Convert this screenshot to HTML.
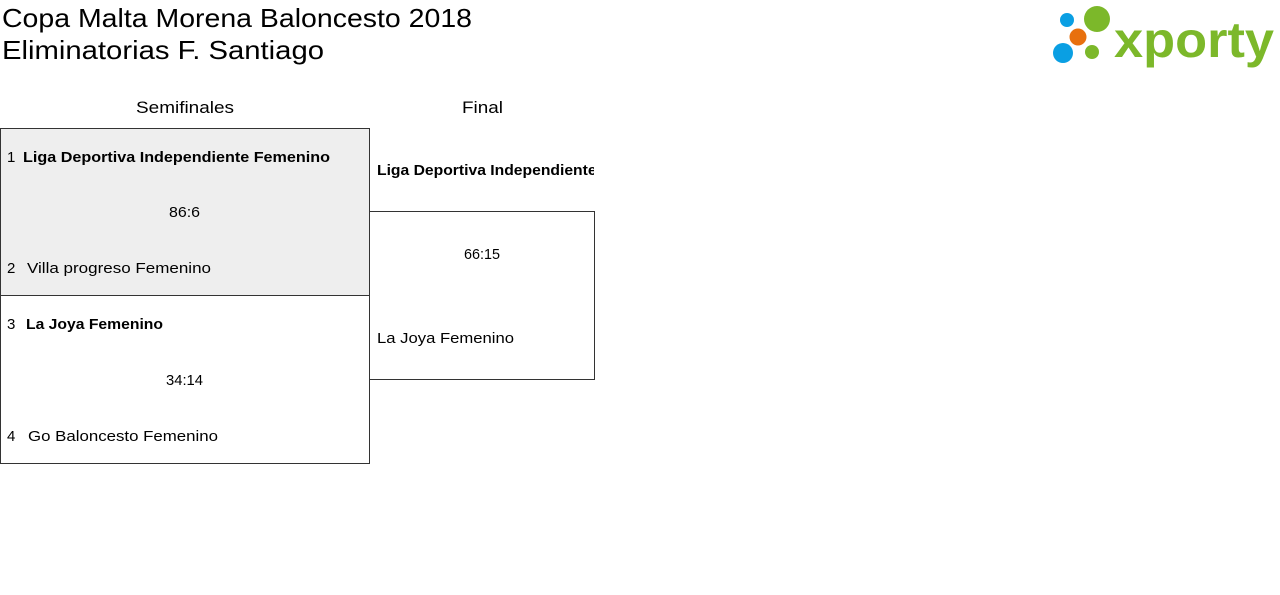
<!DOCTYPE html>
<html><head><meta charset="utf-8"><style>html,body{margin:0;padding:0;background:#fff}svg{display:block}</style></head>
<body>
<svg width="1280" height="595" viewBox="0 0 1280 595" xmlns="http://www.w3.org/2000/svg" font-family="Liberation Sans, sans-serif" fill="#000">
<text x="2" y="27" font-size="26" textLength="470" lengthAdjust="spacingAndGlyphs">Copa Malta Morena Baloncesto 2018</text>
<text x="2" y="59" font-size="26" textLength="322" lengthAdjust="spacingAndGlyphs">Eliminatorias F. Santiago</text>
<text x="136" y="113" font-size="17" textLength="98" lengthAdjust="spacingAndGlyphs">Semifinales</text>
<text x="462" y="113" font-size="17" textLength="41" lengthAdjust="spacingAndGlyphs">Final</text>
<rect x="0.5" y="128.5" width="369" height="167" fill="#eeeeee" stroke="#333"/>
<rect x="0.5" y="295.5" width="369" height="168" fill="#fff" stroke="#333"/>
<rect x="369.5" y="211.5" width="225" height="168" fill="#fff" stroke="#333"/>
<g font-size="15">
<text x="7" y="162">1</text>
<text x="23" y="162" font-weight="bold" textLength="307" lengthAdjust="spacingAndGlyphs">Liga Deportiva Independiente Femenino</text>
<text x="169" y="217" textLength="31" lengthAdjust="spacingAndGlyphs">86:6</text>
<text x="7" y="273">2</text>
<text x="27" y="273" textLength="184" lengthAdjust="spacingAndGlyphs">Villa progreso Femenino</text>
<text x="7" y="329">3</text>
<text x="26" y="329" font-weight="bold" textLength="137" lengthAdjust="spacingAndGlyphs">La Joya Femenino</text>
<text x="166" y="385" textLength="37" lengthAdjust="spacingAndGlyphs">34:14</text>
<text x="7" y="441">4</text>
<text x="28" y="441" textLength="190" lengthAdjust="spacingAndGlyphs">Go Baloncesto Femenino</text>
<svg x="0" y="0" width="594" height="595"><text x="377" y="175" font-weight="bold" textLength="298" lengthAdjust="spacingAndGlyphs">Liga Deportiva Independiente Femenino</text></svg>
<text x="464" y="259" textLength="36" lengthAdjust="spacingAndGlyphs">66:15</text>
<text x="377" y="343" textLength="137" lengthAdjust="spacingAndGlyphs">La Joya Femenino</text>
</g>
<g>
<circle cx="1067" cy="20" r="7" fill="#0a9fe3"/>
<circle cx="1097" cy="19" r="13" fill="#7cb82a"/>
<circle cx="1078" cy="37" r="8.5" fill="#e8700e"/>
<circle cx="1063" cy="53" r="10" fill="#0a9fe3"/>
<circle cx="1092" cy="52" r="7" fill="#7cb82a"/>
<text x="1114" y="57" font-size="50" font-weight="bold" fill="#7cb82a" textLength="160" lengthAdjust="spacingAndGlyphs">xporty</text>
</g>
</svg>
</body></html>
